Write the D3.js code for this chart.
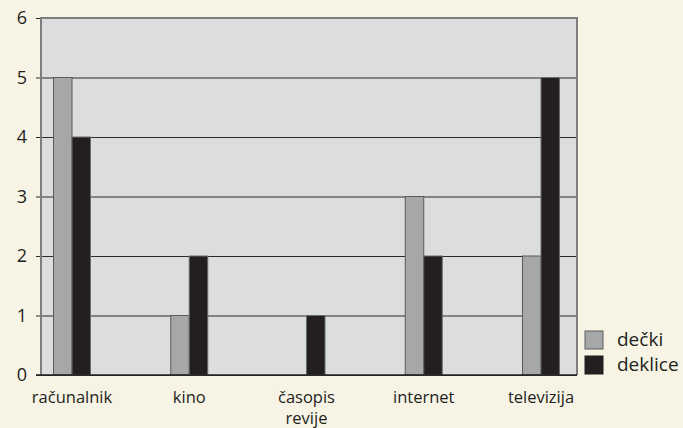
<!DOCTYPE html>
<html><head><meta charset="utf-8">
<script src="https://cdn.jsdelivr.net/npm/d3@7"></script>
<style>
html,body{margin:0;padding:0;background:#f7f4e5;}
svg{display:block;font-family:"Open Sans","Noto Sans",sans-serif;}
</style></head>
<body>
<svg id="chart" width="683" height="428"></svg>
<script>
const categories = [["računalnik"], ["kino"], ["časopis", "revije"], ["internet"], ["televizija"]];
const seriesNames = ["dečki", "deklice"];
const decki = [5, 1, 0, 3, 2];
const deklice = [4, 2, 1, 2, 5];
const yTicks = [0, 1, 2, 3, 4, 5, 6];
const colors = ["#a6a7a9", "#231f20"];

const svg = d3.select("#chart");
const plot = {left: 41, right: 577, top: 18, bottom: 375};

const x = d3.scalePoint().domain(d3.range(categories.length)).range([72, 541]);
const y = d3.scaleLinear().domain([0, 6]).range([plot.bottom, plot.top]);
const barW = 18.5;

svg.append("rect").attr("x", plot.left).attr("y", plot.top)
  .attr("width", plot.right - plot.left).attr("height", plot.bottom - plot.top)
  .attr("fill", "#dcdddf");

// grid lines + ticks
const yAxis = d3.axisLeft(y).tickValues(yTicks).tickFormat(d3.format("d")).tickSize(0);
const ga = svg.append("g").attr("transform", `translate(${plot.left},0)`).call(yAxis);
ga.select(".domain").remove();
ga.selectAll(".tick line").attr("x1", -5).attr("x2", plot.right - plot.left)
  .attr("stroke", "#2b2b2b").attr("stroke-width", 1.2);
ga.selectAll(".tick text").attr("font-size", 18).attr("fill", "#231f20")
  .attr("font-family", '"Open Sans","Noto Sans",sans-serif').attr("x", -14);

// frame
svg.append("path")
  .attr("d", `M${plot.left},${plot.bottom} V${plot.top} H${plot.right} V${plot.bottom}`)
  .attr("fill", "none").attr("stroke", "#7d7d7d").attr("stroke-width", 2);

const series = [decki, deklice];
series.forEach((vals, si) => {
  svg.append("g").selectAll("rect").data(vals.map((v, i) => ({v, i})).filter(d => d.v > 0))
    .join("rect")
    .attr("x", d => x(d.i) + (si === 0 ? -barW : 0))
    .attr("y", d => y(d.v))
    .attr("width", barW)
    .attr("height", d => y(0) - y(d.v))
    .attr("fill", colors[si])
    .attr("stroke", si === 0 ? "#5a5a5a" : "#6a6a6a")
    .attr("stroke-width", 1);
});

// baseline
svg.append("line").attr("x1", plot.left - 5).attr("x2", plot.right)
  .attr("y1", y(0)).attr("y2", y(0)).attr("stroke", "#231f20").attr("stroke-width", 1.5);

// category labels
const cl = svg.append("g");
categories.forEach((lines, i) => {
  const t = cl.append("text").attr("text-anchor", "middle").attr("font-size", 16.5).attr("fill", "#231f20");
  lines.forEach((ln, j) => {
    t.append("tspan").attr("x", x(i)).attr("y", 403 + j * 21).text(ln);
  });
});

// legend
const lg = svg.append("g");
seriesNames.forEach((n, i) => {
  lg.append("rect").attr("x", 585).attr("y", 331 + i * 25).attr("width", 18).attr("height", 18)
    .attr("fill", colors[i]).attr("stroke", i === 0 ? "#5a5a5a" : "#231f20").attr("stroke-width", 1);
  lg.append("text").attr("x", 617).attr("y", 346 + i * 25).attr("font-size", 19)
    .attr("fill", "#231f20").text(n);
});
</script>
</body></html>
